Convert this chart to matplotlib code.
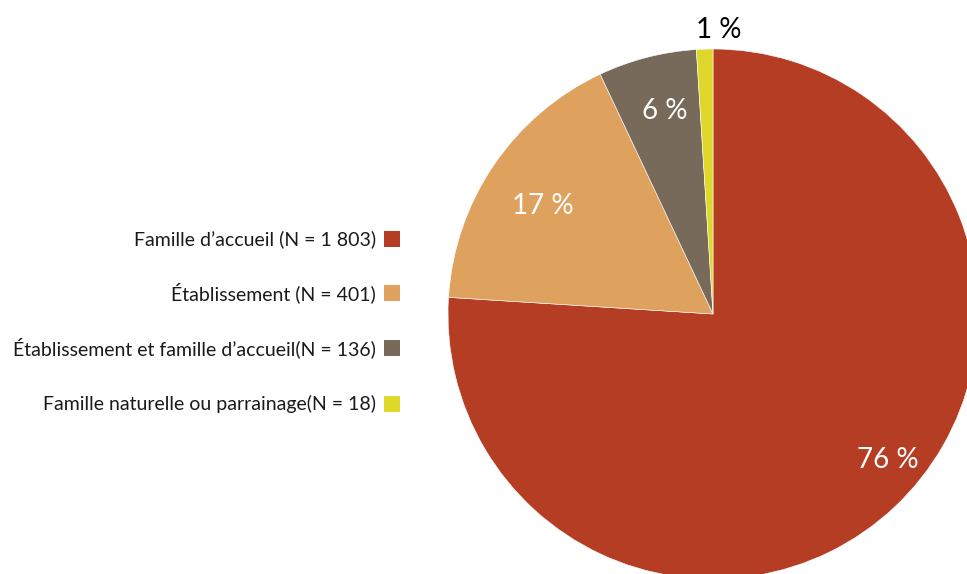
import matplotlib.pyplot as plt
import numpy as np
from matplotlib.patches import Rectangle

categories = [
    "Famille d\u2019accueil (N = 1 803)",
    "\u00c9tablissement (N = 401)",
    "\u00c9tablissement et famille d\u2019accueil(N = 136)",
    "Famille naturelle ou parrainage(N = 18)",
]
counts = [1803, 401, 136, 18]
percents = [76, 17, 6, 1]
colors = ["#B53D24", "#DFA15E", "#786A5A", "#DDD82A"]

plt.rcParams["font.family"] = ["Lato", "DejaVu Sans"]

W, H = 967, 574
fig = plt.figure(figsize=(W / 100, H / 100), dpi=100)
ax = fig.add_axes([0, 0, 1, 1])

# pie centred right, partly cut off by the canvas edge
cx, cy, r = 713, H - 314, 265
wedges, _, autotexts = ax.pie(
    percents, colors=colors, startangle=90, counterclock=False,
    center=(cx, cy), radius=r, autopct="%.0f %%", pctdistance=0.8,
    wedgeprops=dict(edgecolor="white", linewidth=0.4),
    textprops=dict(color="white", fontsize=20),
)

# label offsets from the centre, in pixels (dx right, dy up)
label_offsets = [(175, -146), (-170, 108), (-48, 203), (6, 284)]
for t, (dx, dy) in zip(autotexts, label_offsets):
    t.set_position((cx + dx, cy + dy))
    t.set_ha("center")
    t.set_va("center")
autotexts[-1].set_color("black")

ax.set_aspect("auto")
ax.set_xlim(0, W)
ax.set_ylim(0, H)
ax.axis("off")

# legend: right-aligned labels with square keys to their right
rows_y = [239, 293, 348, 404]
for label, col, y in zip(categories, colors, rows_y):
    ax.text(376, H - y, label, ha="right", va="center", fontsize=14, color="#1a1a1a")
    ax.add_patch(Rectangle((384, H - y - 8), 16, 16, facecolor=col, edgecolor="none"))

fig.savefig("out.png", dpi=100)
